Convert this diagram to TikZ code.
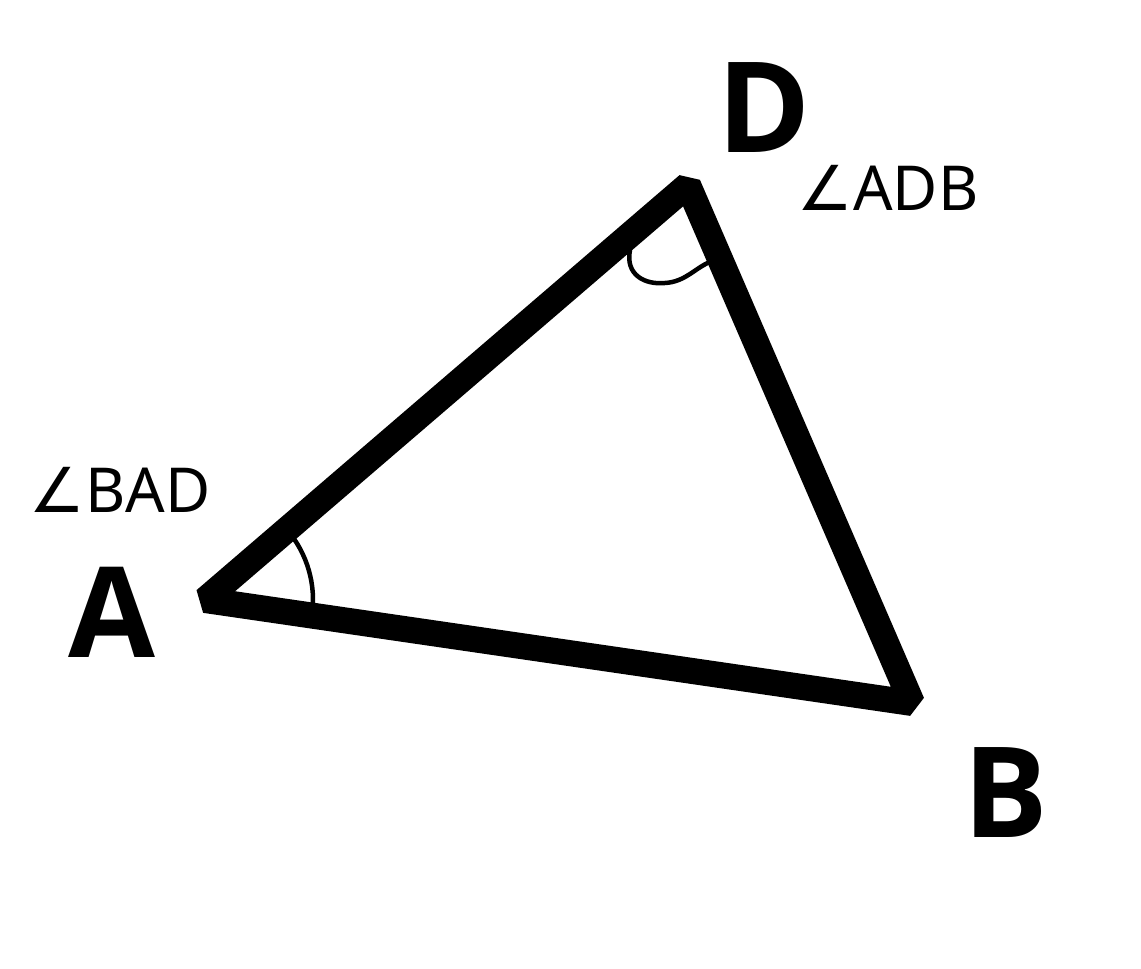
\documentclass[tikz,border=0pt]{standalone}
\usepackage{fontspec}
\setmainfont{Noto Sans}
\newfontfamily\symfont{DejaVu Sans}
\newfontfamily\vertexfont{Open Sans}
\usetikzlibrary{angles}

\tikzset{
  side/.style={line width=26pt,line join=bevel},
  mark arc/.style={line width=4.5pt},
  vertex/.style={inner sep=0pt,font=\vertexfont\bfseries\fontsize{126}{130}\selectfont},
  anglelabel/.style={inner sep=0pt,font=\fontsize{62}{66}\selectfont}
}

\begin{document}
\begin{tikzpicture}[x=1pt,y=1pt]
  \useasboundingbox (0,0) rectangle (1141,969);
  \coordinate (A) at (205,369);
  \coordinate (D) at (688,784);
  \coordinate (B) at (912,266);

  \draw[side] (A) -- (D) -- (B) -- cycle;

  % angle marks
  \pic[draw,mark arc,angle radius=108pt] {angle=B--A--D};
  \coordinate (d1) at (630,719);
  \coordinate (d2) at (665,686);
  \coordinate (d3) at (710,707);
  \draw[mark arc] (d1) .. controls (625,694) and (645,684) .. (d2)
                       .. controls (685,687) and (695,701) .. (d3);

  \node[vertex] (labA) at (112,357) {A};
  \node[vertex] (labB) at (1006,176) {B};
  \node[vertex] (labD) at (764,861) {D};
  \node[anglelabel] (angD) at (888,781) {{\symfont\char"2220}ADB};
  \node[anglelabel] (angA) at (120,479) {{\symfont\char"2220}BAD};
\end{tikzpicture}
\end{document}
